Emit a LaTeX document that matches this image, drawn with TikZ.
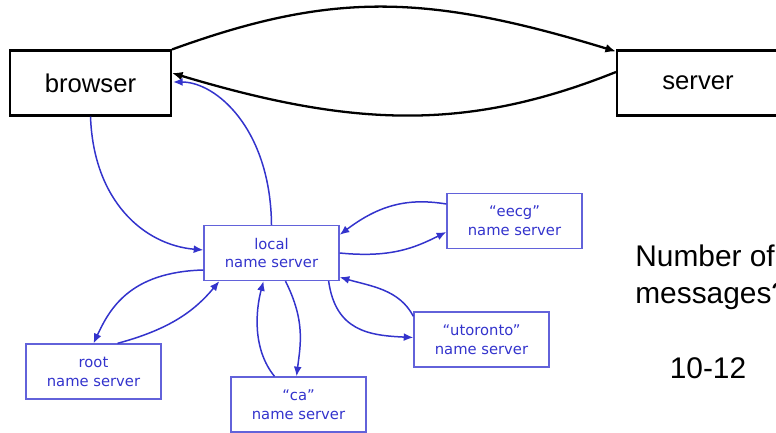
\documentclass[tikz,border=0pt]{standalone}
\usepackage{fontspec}
\setmainfont{Liberation Sans}
\newfontfamily\nsfont{DejaVu Sans}
\usetikzlibrary{arrows.meta}
\usetikzlibrary{calc}
\definecolor{nsblue}{HTML}{3333CC}
\definecolor{nsframe}{HTML}{6262DA}
\tikzset{>={Latex[length=6pt, width=5pt]}}

\begin{document}
\begin{tikzpicture}[x = 0.02cm, y = -0.02cm,
    host/.style = {draw, line width = 1.2pt, minimum width = 3.22cm, minimum height = 1.3cm, inner sep = 0pt, font = \fontsize{14.6}{17}\selectfont},
    ns/.style = {draw = nsframe, line width = 0.75pt, text = nsblue, minimum width = 2.7cm, minimum height = 1.1cm, inner sep = 0pt, align = center, font = \nsfont\fontsize{8.4}{10.8}\selectfont},
    query/.style = {-{Latex[length=5.5pt, width=4.5pt]}, draw = nsblue, line width = 0.85pt}]

\useasboundingbox (0,0) rectangle (776,432);
\begin{scope}
\clip (0,0) rectangle (776,432);

\node[host] (browser) at (90.5, 83) {browser};
\node[host, minimum width = 3.24cm] (server) at (698, 83) {server};

\draw[->, line width = 1.3pt] (browser.north east) .. controls +(160,-58) and +(-190,-58) .. ($(server.north west)+(0,2)$);
\draw[->, line width = 1.3pt] ($(server.west)+(0,-11)$) .. controls +(-150,60) and +(180,54) .. ($(browser.east)+(0,-10)$);

\node[ns] (local) at (271.5, 253) {local\\name server};
\node[ns] (root) at (93.5, 371.5) {root\\name server};
\node[ns] (ca) at (298.5, 404.5) {“ca”\\name server};
\node[ns] (eecg) at (514.5, 221) {“eecg”\\name server};
\node[ns] (utoronto) at (481.5, 339.5) {“utoronto”\\name server};

\draw[query] (browser.south) .. controls +(3,85) and +(-59,-5) .. ($(local.west)+(0,-3)$);
\draw[query] (local.north) .. controls +(-1,-96) and +(43,0) .. ($(browser.east)+(1,-1)$);

\draw[query] ($(local.west)+(0,17)$) .. controls +(-74,2) and +(16,-34) .. (root.north);
\draw[query] ($(root.north)+(24,0)$) .. controls +(52,-14) and +(-25,30) .. ($(local.south west)+(16,0)$);

\draw[query] ($(ca.north)+(-24,0)$) .. controls +(-22,-27) and +(-8,30) .. ($(local.south)+(-8,0)$);
\draw[query] ($(local.south)+(14,0)$) .. controls +(20,40) and +(4,-32) .. ($(ca.north)+(-2,0)$);

\draw[query] ($(local.south east)+(-11,0)$) .. controls +(7,50) and +(-44,-2) .. ($(utoronto.west)+(0,-2)$);
\draw[query] ($(utoronto.north west)+(0,5)$) .. controls +(-14,-27) and +(31,9) .. ($(local.south east)+(0,-4)$);

\draw[query] ($(eecg.west)+(0,-17)$) .. controls +(-37,-6) and +(41,-31) .. ($(local.north east)+(0,10)$);
\draw[query] (local.east) .. controls +(51,5) and +(-32,16) .. ($(eecg.west)+(0,11)$);

\node[anchor = north west, inner sep = 0pt, align = left, font = \fontsize{17}{21}\selectfont] (question) at (635, 245) {Number of\\messages?};
\node[anchor = base, inner sep = 0pt, font = \fontsize{17}{21}\selectfont] (answer) at (708, 378) {10-12};
\end{scope}
\end{tikzpicture}
\end{document}
